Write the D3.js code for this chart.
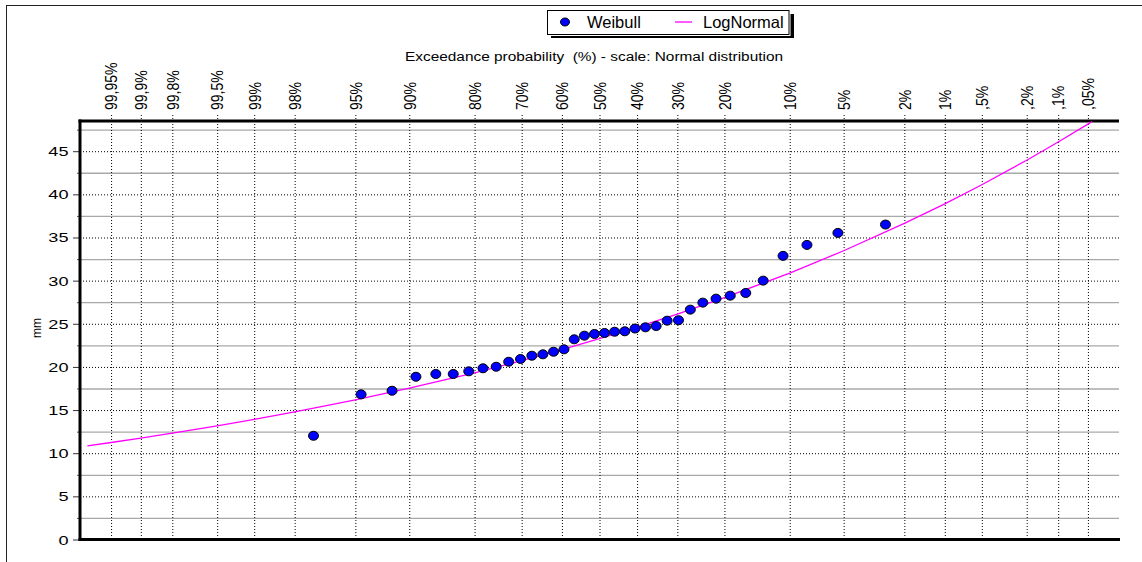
<!DOCTYPE html>
<html>
<head>
<meta charset="utf-8">
<script src="https://cdn.jsdelivr.net/npm/d3@7"></script>
<style>
  html, body { margin: 0; padding: 0; background: #fff; }
  svg { display: block; font-family: "Liberation Sans", Arial, sans-serif; }
</style>
</head>
<body>
<svg id="chart" width="1142" height="562"></svg>
<script>
// Exceedance probabilities (%) of the top axis ticks and their labels
const tickProbs = [99.95, 99.9, 99.8, 99.5, 99, 98, 95, 90, 80, 70, 60, 50, 40, 30, 20, 10, 5, 2, 1, 0.5, 0.2, 0.1, 0.05];
const tickLabels = ["99,95%", "99,9%", "99,8%", "99,5%", "99%", "98%", "95%", "90%", "80%", "70%", "60%", "50%", "40%", "30%", "20%", "10%", "5%", "2%", "1%", ",5%", ",2%", ",1%", ",05%"];

// Y axis ticks (mm)
const yMajorTicks = [0, 5, 10, 15, 20, 25, 30, 35, 40, 45];
const yMinorTicks = [2.5, 7.5, 12.5, 17.5, 22.5, 27.5, 32.5, 37.5, 42.5, 47.5];

// Weibull plotting positions (exceedance %) and observed values (mm)
const weibullProb = [2.70, 5.41, 8.11, 10.81, 13.51, 16.22, 18.92, 21.62, 24.32, 27.03, 29.73, 32.43,
  35.14, 37.84, 40.54, 43.24, 45.95, 48.65, 51.35, 54.05, 56.76, 59.46, 62.16, 64.86,
  67.57, 70.27, 72.97, 75.68, 78.38, 81.08, 83.78, 86.49, 89.19, 91.89, 94.59, 97.30];
const weibullValue = [36.5, 35.53, 34.14, 32.87, 30.0, 28.57, 28.26, 27.91, 27.45, 26.64, 25.41, 25.36,
  24.74, 24.59, 24.45, 24.13, 24.08, 23.93, 23.82, 23.62, 23.2, 22.04, 21.76, 21.46,
  21.3, 20.92, 20.6, 20.02, 19.84, 19.49, 19.18, 19.18, 18.86, 17.24, 16.82, 12.02];

// LogNormal fitted curve: exceedance % and value (mm)
const lognormProb = [99.972, 99.95, 99.9, 99.8, 99.5, 99, 98, 95, 90, 80, 70, 60, 50, 40, 30, 20, 10, 5, 2, 1, 0.5, 0.2, 0.1, 0.05, 0.045];
const lognormValue = [10.84, 11.24, 11.75, 12.32, 13.17, 13.91, 14.78, 16.18, 17.53, 19.32, 20.72, 22.00, 23.27, 24.61, 26.13, 28.02, 30.88, 33.46, 36.63, 38.90, 41.11, 43.95, 46.06, 48.14, 48.44];

// Inverse standard normal CDF (Acklam's rational approximation)
function probit(p) {
  const a = [-3.969683028665376e+01, 2.209460984245205e+02, -2.759285104469687e+02, 1.383577518672690e+02, -3.066479806614716e+01, 2.506628277459239e+00];
  const b = [-5.447609879822406e+01, 1.615858368580409e+02, -1.556989798598866e+02, 6.680131188771972e+01, -1.328068155288572e+01];
  const c = [-7.784894002430293e-03, -3.223964580411365e-01, -2.400758277161838e+00, -2.549732539343734e+00, 4.374664141464968e+00, 2.938163982698783e+00];
  const d = [7.784695709041462e-03, 3.224671290700398e-01, 2.445134137142996e+00, 3.754408661907416e+00];
  const pl = 0.02425, ph = 1 - pl;
  let q, r;
  if (p < pl) {
    q = Math.sqrt(-2 * Math.log(p));
    return (((((c[0]*q+c[1])*q+c[2])*q+c[3])*q+c[4])*q+c[5]) / ((((d[0]*q+d[1])*q+d[2])*q+d[3])*q+1);
  }
  if (p <= ph) {
    q = p - 0.5; r = q * q;
    return (((((a[0]*r+a[1])*r+a[2])*r+a[3])*r+a[4])*r+a[5])*q / (((((b[0]*r+b[1])*r+b[2])*r+b[3])*r+b[4])*r+1);
  }
  q = Math.sqrt(-2 * Math.log(1 - p));
  return -(((((c[0]*q+c[1])*q+c[2])*q+c[3])*q+c[4])*q+c[5]) / ((((d[0]*q+d[1])*q+d[2])*q+d[3])*q+1);
}
// exceedance % -> standard normal quantile
const zOf = pct => probit(1 - pct / 100);

const svg = d3.select("#chart");
const plot = { left: 80, right: 1119, top: 121, bottom: 539.5 };

const x = d3.scaleLinear().domain([-3.5, 3.5]).range([plot.left, plot.right]);
const y = d3.scaleLinear().domain([0, 48.5]).range([plot.bottom, plot.top]);

// outer frame
svg.append("line").attr("x1", 6).attr("x2", 1142).attr("y1", 5.5).attr("y2", 5.5).attr("stroke", "#222").attr("stroke-width", 1);
svg.append("line").attr("x1", 6.5).attr("x2", 6.5).attr("y1", 5).attr("y2", 562).attr("stroke", "#222").attr("stroke-width", 1);

// minor horizontal grid (solid gray)
svg.append("g")
  .attr("transform", `translate(${plot.left},0)`)
  .call(d3.axisLeft(y).tickValues(yMinorTicks).tickSize(-(plot.right - plot.left)).tickFormat(""))
  .call(g => g.select(".domain").remove())
  .call(g => g.selectAll(".tick line").attr("stroke", "#a8a8a8").attr("stroke-width", 1.3));

// major horizontal grid (dotted black)
svg.append("g")
  .attr("transform", `translate(${plot.left},0)`)
  .call(d3.axisLeft(y).tickValues(yMajorTicks.filter(v => v > 0)).tickSize(-(plot.right - plot.left)).tickFormat(""))
  .call(g => g.select(".domain").remove())
  .call(g => g.selectAll(".tick line").attr("stroke", "#000").attr("stroke-width", 1).attr("stroke-dasharray", "1,2"));

// vertical grid + top tick marks (dotted black)
const gridTop = 115;
svg.append("g")
  .attr("transform", `translate(0,${gridTop})`)
  .call(d3.axisTop(x).tickValues(tickProbs.map(zOf)).tickSize(-(plot.bottom - gridTop)).tickFormat(""))
  .call(g => g.select(".domain").remove())
  .call(g => g.selectAll(".tick line").attr("stroke", "#000").attr("stroke-width", 1).attr("stroke-dasharray", "1,2"));

// top axis labels (rotated, reading bottom to top)
svg.append("g")
  .attr("transform", `translate(0,${plot.top})`)
  .call(d3.axisTop(x).tickValues(tickProbs.map(zOf)).tickSize(0).tickFormat((d, i) => tickLabels[i]))
  .call(g => g.select(".domain").remove())
  .call(g => g.selectAll(".tick text")
    .attr("x", 0).attr("y", 0).attr("dy", "0.36em")
    .attr("text-anchor", "start")
    .attr("font-family", "Liberation Sans, Arial, sans-serif")
    .attr("font-size", 14)
    .attr("fill", "#000")
    .attr("transform", "translate(0,-11) scale(1.15,1) rotate(-90)"));

// left axis: minor ticks
svg.append("g")
  .attr("transform", `translate(${plot.left},0)`)
  .call(d3.axisLeft(y).tickValues(yMinorTicks).tickSize(3).tickFormat(""))
  .call(g => g.select(".domain").remove())
  .call(g => g.selectAll(".tick line").attr("stroke", "#555"));

// left axis: major ticks and labels
svg.append("g")
  .attr("transform", `translate(${plot.left},0)`)
  .call(d3.axisLeft(y).tickValues(yMajorTicks).tickSize(7).tickFormat(d3.format("d")))
  .call(g => g.select(".domain").remove())
  .call(g => g.selectAll(".tick line").attr("stroke", "#333"))
  .call(g => g.selectAll(".tick text")
    .attr("x", 0).attr("dy", "0.36em")
    .attr("text-anchor", "end")
    .attr("font-family", "Liberation Sans, Arial, sans-serif")
    .attr("font-size", 12.5)
    .attr("fill", "#000")
    .attr("transform", "translate(-11.5,0) scale(1.45,1)"));

// axis frame lines
svg.append("line").attr("x1", plot.left).attr("x2", plot.left).attr("y1", plot.top - 1.5).attr("y2", plot.bottom + 1.5).attr("stroke", "#000").attr("stroke-width", 3);
svg.append("line").attr("x1", plot.left - 1.5).attr("x2", plot.right).attr("y1", plot.top).attr("y2", plot.top).attr("stroke", "#000").attr("stroke-width", 3);
svg.append("line").attr("x1", plot.left - 1.5).attr("x2", plot.right + 1).attr("y1", plot.bottom).attr("y2", plot.bottom).attr("stroke", "#000").attr("stroke-width", 3);

// y axis title
svg.append("text")
  .attr("transform", "translate(41,328) rotate(-90)")
  .attr("text-anchor", "middle")
  .attr("font-size", 12)
  .attr("fill", "#000")
  .text("mm");

// x axis title
svg.append("text")
  .attr("x", 405).attr("y", 61)
  .attr("font-size", 12)
  .attr("textLength", 378)
  .attr("lengthAdjust", "spacingAndGlyphs")
  .style("white-space", "pre")
  .attr("fill", "#000")
  .text("Exceedance probability  (%) - scale: Normal distribution");

// LogNormal curve
const lineGen = d3.line()
  .x((d, i) => x(zOf(lognormProb[i])))
  .y((d, i) => y(lognormValue[i]));
svg.append("path")
  .datum(lognormValue)
  .attr("d", lineGen)
  .attr("fill", "none")
  .attr("stroke", "#ff00ff")
  .attr("stroke-width", 1.3);

// Weibull points
svg.append("g")
  .selectAll("ellipse")
  .data(weibullValue)
  .join("ellipse")
  .attr("cx", (d, i) => x(zOf(weibullProb[i])))
  .attr("cy", d => y(d))
  .attr("rx", 5)
  .attr("ry", 4.5)
  .attr("fill", "#0000ff")
  .attr("stroke", "#000")
  .attr("stroke-width", 1);

// legend
const lg = svg.append("g");
lg.append("rect").attr("x", 551).attr("y", 14).attr("width", 243).attr("height", 24).attr("fill", "#000");
lg.append("rect").attr("x", 547.5).attr("y", 10.5).attr("width", 241.5).attr("height", 24)
  .attr("fill", "#fff").attr("stroke", "#fff").attr("stroke-width", 3);
lg.append("rect").attr("x", 547.5).attr("y", 10.5).attr("width", 241.5).attr("height", 24)
  .attr("fill", "#fff").attr("stroke", "#000").attr("stroke-width", 1);
lg.append("ellipse").attr("cx", 565).attr("cy", 22).attr("rx", 4.5).attr("ry", 4)
  .attr("fill", "#0000ff").attr("stroke", "#000").attr("stroke-width", 1);
lg.append("text").attr("x", 587).attr("y", 28.3).attr("font-size", 16.5).attr("fill", "#000").text("Weibull");
lg.append("line").attr("x1", 675).attr("x2", 692).attr("y1", 22).attr("y2", 22)
  .attr("stroke", "#ff00ff").attr("stroke-width", 1.3);
lg.append("text").attr("x", 703).attr("y", 28.3).attr("font-size", 16.5).attr("fill", "#000").text("LogNormal");
</script>
</body>
</html>
